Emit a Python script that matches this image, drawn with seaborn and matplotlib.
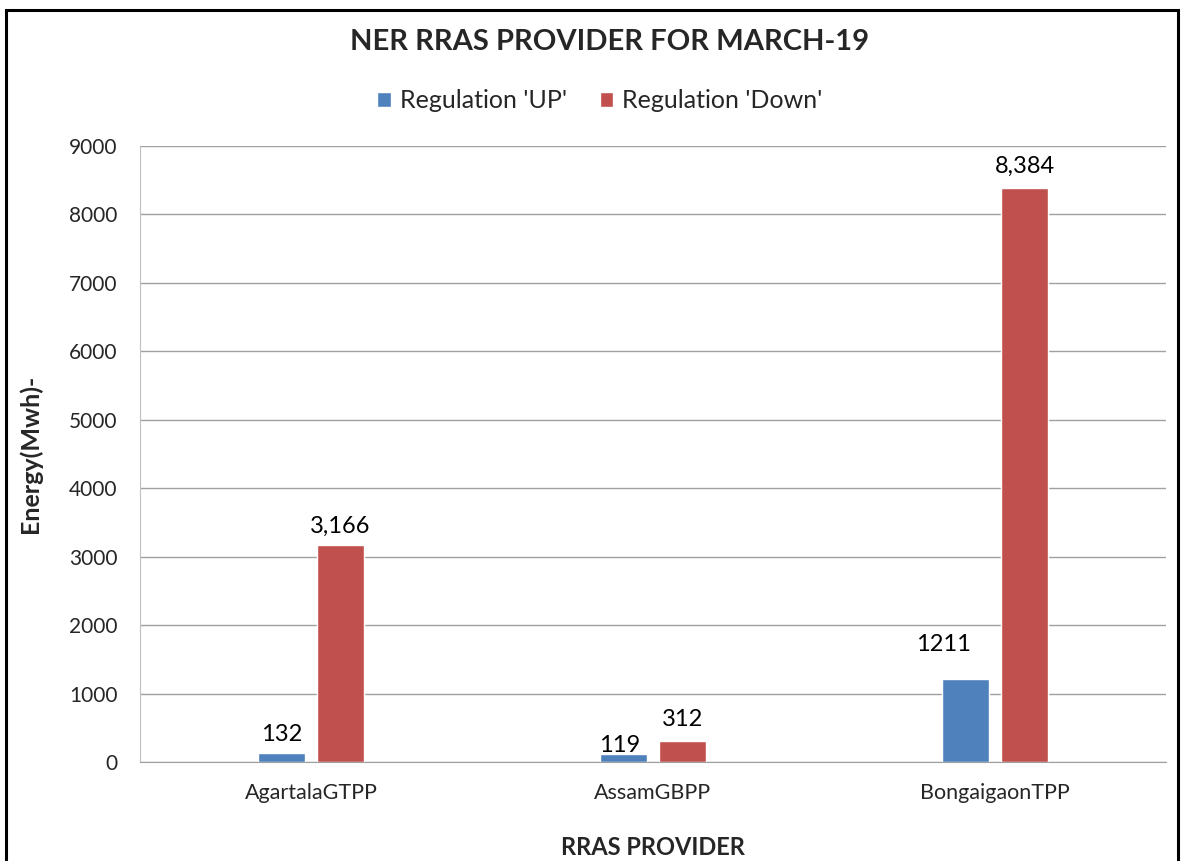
import pandas as pd
import matplotlib
matplotlib.use("Agg")
import matplotlib.pyplot as plt
import seaborn as sns
from matplotlib.patches import Rectangle

# datos del grafico
proveedores = ["AgartalaGTPP", "AssamGBPP", "BongaigaonTPP"]
reg_up = [132, 119, 1211]
reg_down = [3166, 312, 8384]
series = ["Regulation 'UP'", "Regulation 'Down'"]
ticks_y = [0, 1000, 2000, 3000, 4000, 5000, 6000, 7000, 8000, 9000]

colores = ["#4F81BD", "#C0504D"]

df = pd.DataFrame({
    "Proveedor": proveedores * 2,
    "Energia": reg_up + reg_down,
    "Serie": [series[0]] * 3 + [series[1]] * 3,
})

sns.set_style("white")
plt.rcParams["font.family"] = ["Lato", "DejaVu Sans"]

fig = plt.figure(figsize=(11.81, 8.61), dpi=100)
ax = fig.add_axes([0.1185, 0.115, 0.8688, 0.7154])

sns.barplot(data=df, x="Proveedor", y="Energia", hue="Serie", palette=colores,
            saturation=1, width=0.345, gap=0.2, ax=ax)

ax.set_ylim(0, 9000)
ax.set_yticks(ticks_y)
ax.set_xlim(-0.5, 2.5)
ax.grid(axis="y", color="#A0A0A0", linewidth=1)
ax.set_axisbelow(True)
for s in ["top", "right"]:
    ax.spines[s].set_visible(False)
ax.spines["left"].set_color("#C0C0C0")
ax.spines["bottom"].set_color("#A0A0A0")
ax.tick_params(axis="y", length=0, pad=16, labelsize=15)
ax.tick_params(axis="x", length=0, pad=15, labelsize=15.5)

ax.set_xlabel("RRAS PROVIDER", fontsize=17, fontweight="bold")
ax.xaxis.set_label_coords(0.5, -0.12)
ax.set_ylabel("Energy(Mwh)-", fontsize=18, fontweight="bold")
ax.yaxis.set_label_coords(-0.095, 0.5)

# etiquetas de datos (offset en px)
etiquetas = [[str(v) for v in reg_up], [f"{v:,}" for v in reg_down]]
offsets = [[(0, 12), (-4, 2), (-22, 28)], [(0, 12), (0, 15), (0, 15)]]
for cont, labs, offs in zip(ax.containers, etiquetas, offsets):
    for barra, txt, (dx, dy) in zip(cont, labs, offs):
        xc = barra.get_x() + barra.get_width() / 2
        ax.annotate(txt, (xc, barra.get_height()), xytext=(dx * 0.72, dy * 0.72),
                    textcoords="offset points", ha="center", va="baseline",
                    fontsize=17, color="black")

# leyenda
ax.legend_.remove()
h, l = ax.get_legend_handles_labels()
fig.legend(h, l, loc="center", bbox_to_anchor=(0.508, 1 - 101 / 861), ncol=2,
           frameon=False, fontsize=18, handlelength=0.55, handleheight=0.55,
           handletextpad=0.35, columnspacing=1.3)

fig.text(0.516, 1 - 42 / 861, "NER RRAS PROVIDER FOR MARCH-19", ha="center",
         va="center", fontsize=21, fontweight="bold")

# marco negro
fig.patches.append(Rectangle((6 / 1181, -0.1), 1172 / 1181, 1.1 - 10 / 861,
                             transform=fig.transFigure, fill=False,
                             edgecolor="black", linewidth=2.2))

fig.savefig("out.png", dpi=100)
